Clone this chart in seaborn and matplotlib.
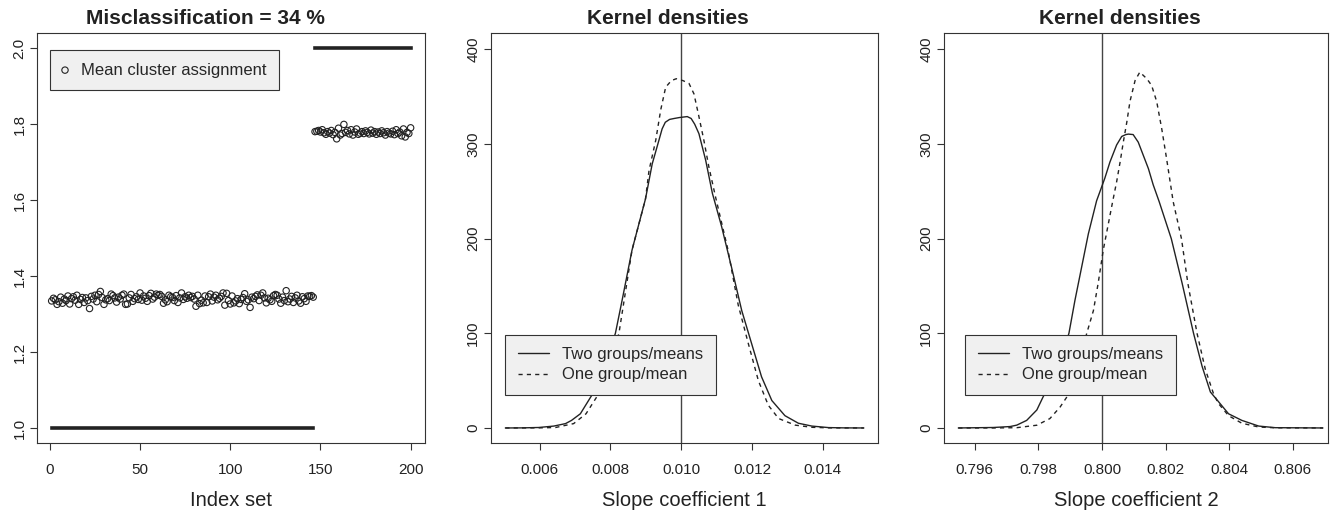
import numpy as np
import pandas as pd
import matplotlib
matplotlib.use("Agg")
import matplotlib.pyplot as plt
import seaborn as sns

# ---------------- data ----------------
# mean cluster assignment per observation (index 1..146: group 1, 147..200: group 2)
mean_assign_g1 = [
    1.335, 1.342, 1.338, 1.326, 1.333, 1.345, 1.329, 1.340, 1.336, 1.348,
    1.327, 1.341, 1.346, 1.337, 1.350, 1.326, 1.339, 1.344, 1.331, 1.343,
    1.336, 1.315, 1.347, 1.340, 1.350, 1.333, 1.352, 1.360, 1.344, 1.326,
    1.338, 1.341, 1.336, 1.353, 1.349, 1.343, 1.332, 1.345, 1.340, 1.350,
    1.353, 1.326, 1.327, 1.343, 1.352, 1.334, 1.341, 1.346, 1.339, 1.356,
    1.337, 1.348, 1.342, 1.334, 1.349, 1.355, 1.340, 1.345, 1.353, 1.350,
    1.352, 1.347, 1.329, 1.338, 1.333, 1.350, 1.346, 1.344, 1.336, 1.349,
    1.331, 1.343, 1.356, 1.339, 1.346, 1.342, 1.350, 1.344, 1.347, 1.340,
    1.321, 1.350, 1.328, 1.337, 1.330, 1.348, 1.331, 1.346, 1.353, 1.335,
    1.345, 1.350, 1.338, 1.342, 1.347, 1.356, 1.324, 1.355, 1.336, 1.327,
    1.348, 1.330, 1.335, 1.341, 1.328, 1.339, 1.344, 1.354, 1.334, 1.338,
    1.318, 1.345, 1.341, 1.347, 1.351, 1.336, 1.350, 1.356, 1.343, 1.330,
    1.342, 1.338, 1.334, 1.349, 1.352, 1.350, 1.340, 1.329, 1.345, 1.336,
    1.362, 1.333, 1.340, 1.347, 1.331, 1.343, 1.350, 1.335, 1.329, 1.346,
    1.341, 1.334, 1.348, 1.347, 1.349, 1.345,
]
mean_assign_g2 = [
    1.781, 1.782, 1.784, 1.780, 1.786, 1.778, 1.774, 1.781, 1.777, 1.784,
    1.773, 1.779, 1.762, 1.790, 1.772, 1.776, 1.800, 1.779, 1.784, 1.775,
    1.786, 1.772, 1.780, 1.788, 1.774, 1.777, 1.781, 1.776, 1.783, 1.779,
    1.775, 1.785, 1.777, 1.781, 1.774, 1.780, 1.776, 1.783, 1.778, 1.772,
    1.781, 1.777, 1.775, 1.782, 1.773, 1.786, 1.776, 1.780, 1.770, 1.788,
    1.767, 1.779, 1.776, 1.791,
]
true_groups = [1, 2]

# kernel densities, slope coefficient 1
s1_true = 0.010
s1_two_x = [0.00503, 0.0055, 0.00597, 0.0064, 0.00673, 0.0069, 0.00715, 0.00748, 0.0078,
            0.00814, 0.00833, 0.00861, 0.00899, 0.00918, 0.00937, 0.00946, 0.00955, 0.00967,
            0.0098, 0.00995, 0.01017, 0.01028, 0.01038, 0.0105, 0.01069, 0.01088, 0.01114,
            0.01142, 0.01171, 0.01199, 0.01227, 0.01256, 0.01293, 0.01331, 0.01369, 0.01416,
            0.0146, 0.01516]
s1_two_y = [0, 0.1, 0.5, 2, 4.6, 8, 15, 35, 62, 100, 135, 188, 242, 279, 304, 316, 323, 326,
            327, 328, 329, 327, 321, 311, 283, 248, 213, 170, 124, 89, 54, 29, 13, 5, 2, 0.4,
            0.1, 0]
s1_one_x = [0.00503, 0.006, 0.00645, 0.00696, 0.00731, 0.00765, 0.00795, 0.00824, 0.00861,
            0.00899, 0.00909, 0.00928, 0.00942, 0.00956, 0.00972, 0.00986, 0.01005, 0.01022,
            0.01036, 0.0105, 0.01064, 0.01078, 0.01097, 0.01131, 0.01161, 0.01189, 0.01218,
            0.01246, 0.01275, 0.01322, 0.01369, 0.0142, 0.01516]
s1_one_y = [0, 0.1, 0.5, 4.6, 15, 35, 65, 100, 188, 242, 272, 304, 336, 360, 367, 369, 367,
            364, 353, 329, 304, 276, 244, 190, 130, 90, 50, 24, 10, 3, 0.7, 0.1, 0]

# kernel densities, slope coefficient 2
s2_true = 0.800
s2_two_x = [0.79548, 0.79658, 0.79711, 0.79732, 0.79763, 0.79795, 0.79815, 0.7985, 0.79875,
            0.79896, 0.79915, 0.79936, 0.79957, 0.79983, 0.80009, 0.80025, 0.80046, 0.80062,
            0.80075, 0.80083, 0.80098, 0.80114, 0.8013, 0.80146, 0.80161, 0.8018, 0.80218,
            0.80252, 0.80288, 0.80315, 0.80341, 0.80366, 0.80398, 0.8044, 0.80493, 0.80545,
            0.80695]
s2_two_y = [0, 0.5, 1.5, 3, 8, 19, 33, 55, 78, 100, 135, 170, 205, 240, 264, 281, 299, 308,
            310, 310.5, 310, 302, 288, 274, 257, 239, 200, 153, 100, 65, 38, 28, 15, 8, 2,
            0.3, 0]
s2_one_x = [0.79548, 0.79658, 0.79732, 0.79795, 0.79836, 0.79868, 0.79894, 0.79925, 0.79952,
            0.79973, 0.79988, 0.80004, 0.80034, 0.80046, 0.80057, 0.80067, 0.80078, 0.80088,
            0.80104, 0.80119, 0.80141, 0.80156, 0.80172, 0.80188, 0.80203, 0.80224, 0.8025,
            0.8027, 0.80299, 0.80325, 0.80351, 0.80366, 0.80398, 0.8044, 0.80493, 0.80545,
            0.80695]
s2_one_y = [0, 0, 0.3, 2.9, 9.9, 22, 35, 65, 100, 124, 153, 188, 240, 260, 281, 302, 323,
            345, 367, 376, 369, 362, 345, 316, 285, 239, 200, 153, 100, 62, 36, 26, 13, 5, 1,
            0.2, 0]

titles = ["Misclassification = 34 %", "Kernel densities", "Kernel densities"]
xlabels = ["Index set", "Slope coefficient 1", "Slope coefficient 2"]
legend_dens = ["Two groups/means", "One group/mean"]
legend_pts = "Mean cluster assignment"

x1_ticks = [0, 50, 100, 150, 200]
y1_ticks = [1.0, 1.2, 1.4, 1.6, 1.8, 2.0]
x2_ticks = [0.006, 0.008, 0.010, 0.012, 0.014]
x3_ticks = [0.796, 0.798, 0.800, 0.802, 0.804, 0.806]
yd_ticks = [0, 100, 200, 300, 400]

# ---------------- style ----------------
sns.set_style("ticks")
plt.rcParams["font.family"] = ["Liberation Sans", "DejaVu Sans"]
INK = "#222222"
AX = "#333333"

W, H = 1338, 514
fig = plt.figure(figsize=(W / 100, H / 100), dpi=100)


def ax_at(l, t, r, b):
    return fig.add_axes([l / W, 1 - b / H, (r - l) / W, (b - t) / H])


TOP, BOT = 33.3, 443.3
ax1 = ax_at(37.3, TOP, 425, BOT)
ax2 = ax_at(491, TOP, 878, BOT)
ax3 = ax_at(944, TOP, 1327.7, BOT)

# ---------------- panel 1 ----------------
n1, n2 = len(mean_assign_g1), len(mean_assign_g2)
idx = np.arange(1, n1 + n2 + 1)
pts = pd.DataFrame({"index": idx, "mean": mean_assign_g1 + mean_assign_g2})
truth = pd.DataFrame({"index": idx,
                      "group": [true_groups[0]] * n1 + [true_groups[1]] * n2})

sns.lineplot(data=truth, x="index", y="group", units="group", estimator=None,
             ax=ax1, color=INK, lw=2.6, solid_capstyle="projecting", legend=False)
sns.scatterplot(data=pts, x="index", y="mean", ax=ax1, marker="o", s=21,
                facecolor="none", edgecolor=INK, linewidth=0.8,
                label=legend_pts, zorder=3)
ax1.set_xlim(-6.96, 207.96)
ax1.set_ylim(0.96, 2.04)
ax1.set_xticks(x1_ticks)
ax1.set_xticklabels([str(v) for v in x1_ticks])
ax1.set_yticks(y1_ticks)
ax1.set_yticklabels([f"{v:.1f}" for v in y1_ticks])
leg = ax1.legend(loc="upper left",
                 bbox_to_anchor=((50 - 37.3) / 387.7, (BOT - 50) / 410),
                 borderaxespad=0, frameon=True, fancybox=False,
                 facecolor="#f0f0f0", edgecolor=AX, framealpha=1,
                 fontsize=12, borderpad=0.75, handlelength=0.3,
                 handletextpad=0.8)
leg.get_frame().set_linewidth(0.8)

# ---------------- panels 2 and 3 ----------------
dens = [
    (ax2, s1_two_x, s1_two_y, s1_one_x, s1_one_y, s1_true, (0.004625, 0.01556),
     x2_ticks, lambda v: f"{v:.3f}", 505.3, 491, 387),
    (ax3, s2_two_x, s2_two_y, s2_one_x, s2_one_y, s2_true, (0.79503, 0.80710),
     x3_ticks, lambda v: f"{v:.3f}", 965.3, 944, 383.7),
]
for ax, tx, ty, ox, oy, true_v, xl, xt, fmt, leg_l, ax_l, ax_w in dens:
    ax.axvline(true_v, color="#444444", lw=1.0, zorder=1)
    sns.lineplot(x=tx, y=ty, ax=ax, color=INK, lw=1.0, estimator=None,
                 sort=False, label=legend_dens[0])
    sns.lineplot(x=ox, y=oy, ax=ax, color=INK, lw=1.0, estimator=None,
                 sort=False, linestyle=(0, (3, 3)), label=legend_dens[1])
    ax.set_xlim(*xl)
    ax.set_ylim(-16.2, 417)
    ax.set_xticks(xt)
    ax.set_xticklabels([fmt(v) for v in xt])
    ax.set_yticks(yd_ticks)
    ax.set_yticklabels([str(v) for v in yd_ticks])
    lg = ax.legend(loc="lower left",
                   bbox_to_anchor=((leg_l - ax_l) / ax_w, (BOT - 395) / 410),
                   borderaxespad=0, frameon=True, fancybox=False,
                   facecolor="#f0f0f0", edgecolor=AX, framealpha=1,
                   fontsize=12, borderpad=0.75, handlelength=1.86,
                   handletextpad=0.8, labelspacing=0.33)
    lg.get_frame().set_linewidth(0.8)
    lg.set_zorder(5)

# ---------------- common decoration ----------------
title_x = [(205 - 37.3) / 387.7, (667.7 - 491) / 387, (1120.3 - 944) / 383.7]
for ax, t, xlab, tx in zip([ax1, ax2, ax3], titles, xlabels, title_x):
    for s in ax.spines.values():
        s.set_color(AX)
        s.set_linewidth(0.8)
        s.set_visible(True)
    ax.tick_params(direction="out", length=5.3, width=0.8, colors=AX,
                   labelsize=11, labelcolor=INK)
    ax.tick_params(axis="x", pad=9.0)
    ax.tick_params(axis="y", labelrotation=90, pad=2.5)
    for lab in ax.get_yticklabels():
        lab.set_va("center")
    ax.set_ylabel("")
    ax.set_xlabel(xlab, fontsize=14.5, color=INK)
    ax.xaxis.set_label_coords(0.5, -0.117)
    ax.text(tx, 1 + (TOP - 24) / 410, t, transform=ax.transAxes, ha="center",
            va="baseline", fontsize=15, fontweight="bold", color=INK)

fig.savefig("out.png", dpi=100)
